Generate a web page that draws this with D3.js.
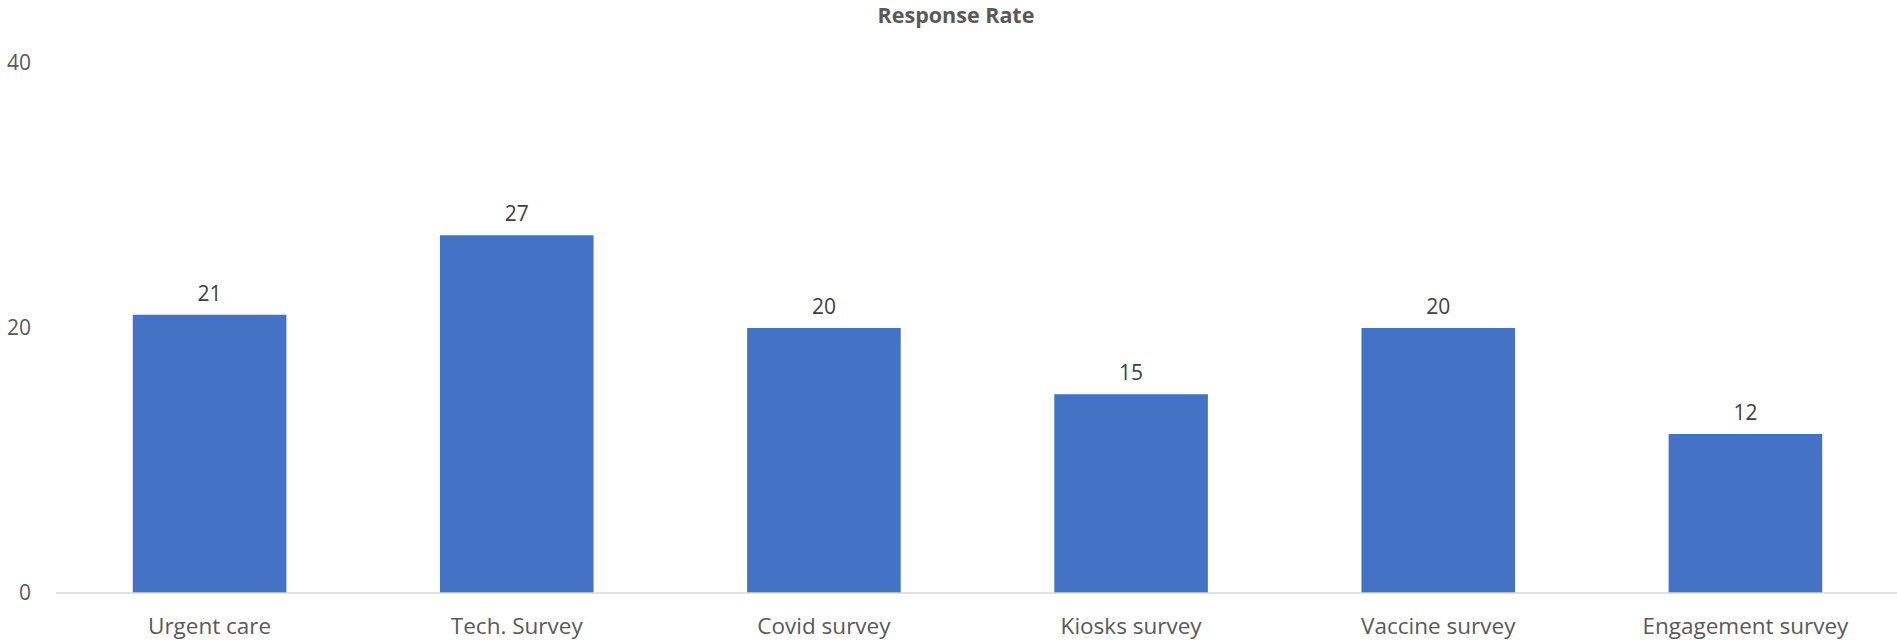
<!DOCTYPE html>
<html>
<head>
<meta charset="utf-8">
<script src="https://cdn.jsdelivr.net/npm/d3@7"></script>
<style>
  html, body { margin: 0; padding: 0; background: #ffffff; }
  svg { display: block; }
  text { font-family: "Open Sans", "Noto Sans", sans-serif; }
</style>
</head>
<body>
<svg id="chart" width="1897" height="642"></svg>
<script>
// Survey response rates
const categories = ["Urgent care", "Tech. Survey", "Covid survey", "Kiosks survey", "Vaccine survey", "Engagement survey"];
const responseRates = [21, 27, 20, 15, 20, 12];
const yTicks = [0, 20, 40];
const chartTitle = "Response Rate";

const W = 1897, H = 642;
const margin = { top: 63, right: 0, bottom: 49, left: 56 };

const svg = d3.select("#chart");

const x = d3.scaleBand()
  .domain(categories)
  .range([margin.left, W - margin.right + 2])
  .paddingInner(0.5)
  .paddingOuter(0.25);

const y = d3.scaleLinear()
  .domain([0, 40])
  .range([H - margin.bottom, margin.top]);

// Title
svg.append("text")
  .attr("x", 956)
  .attr("y", 23)
  .attr("text-anchor", "middle")
  .attr("font-size", 21.5)
  .attr("font-weight", "bold")
  .attr("fill", "#595959")
  .text(chartTitle);

// Value axis labels (no gridlines)
const yAxis = d3.axisLeft(y).tickValues(yTicks).tickSize(0).tickPadding(0);
svg.append("g")
  .attr("transform", `translate(31,0)`)
  .call(yAxis)
  .call(g => g.select(".domain").remove())
  .call(g => g.selectAll("text")
    .attr("font-size", 21)
    .attr("fill", "#595959")
    .attr("font-family", "'Open Sans', sans-serif"));

// Bars
svg.append("g")
  .selectAll("rect")
  .data(categories)
  .join("rect")
  .attr("x", d => x(d))
  .attr("width", x.bandwidth())
  .attr("y", (d, i) => y(responseRates[i]))
  .attr("height", (d, i) => y(0) - y(responseRates[i]))
  .attr("fill", "#4472C4");

// Category axis
const xAxis = d3.axisBottom(x).tickSize(0).tickPadding(25);
svg.append("g")
  .attr("transform", `translate(0,${y(0)})`)
  .call(xAxis)
  .call(g => g.select(".domain")
    .attr("stroke", "#D9D9D9")
    .attr("stroke-width", 1.5)
    .attr("d", `M${margin.left},0H${W}`))
  .call(g => g.selectAll("text")
    .attr("font-size", 22.5)
    .attr("fill", "#595959")
    .attr("font-family", "'Open Sans', sans-serif"));

// Data labels
svg.append("g")
  .selectAll("text")
  .data(categories)
  .join("text")
  .attr("x", d => x(d) + x.bandwidth() / 2)
  .attr("y", (d, i) => y(responseRates[i]) - 14)
  .attr("text-anchor", "middle")
  .attr("font-size", 21)
  .attr("fill", "#404040")
  .text((d, i) => responseRates[i]);
</script>
</body>
</html>
